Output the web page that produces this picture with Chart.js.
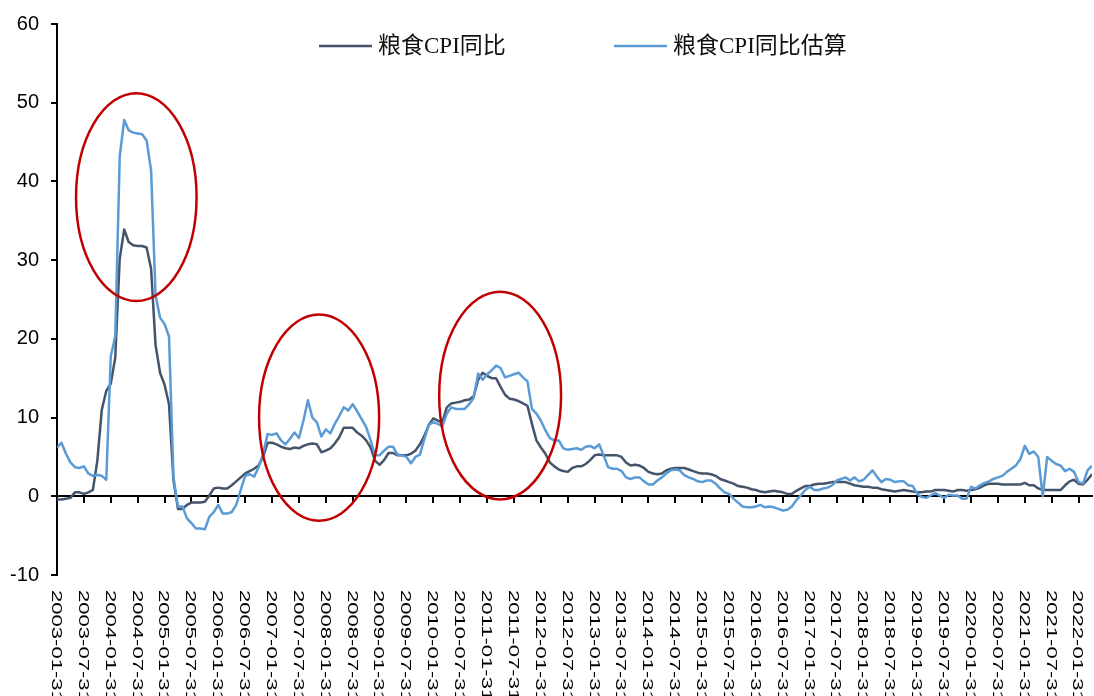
<!DOCTYPE html>
<html>
<head>
<meta charset="utf-8">
<script src="https://cdn.jsdelivr.net/npm/chart.js@4.4.1/dist/chart.umd.min.js"></script>
<style>
  body { margin: 0; background: #fff; }
  #wrap { width: 1094px; height: 696px; }
</style>
</head>
<body>
<div id="wrap"><canvas id="grainChart" width="1094" height="696"></canvas></div>
<script>
// x tick labels, one every 6 months (month index 0 = 2003-01-31)
const tickLabels = [
  '2003-01-31', '2003-07-31', '2004-01-31', '2004-07-31', '2005-01-31', '2005-07-31',
  '2006-01-31', '2006-07-31', '2007-01-31', '2007-07-31', '2008-01-31', '2008-07-31',
  '2009-01-31', '2009-07-31', '2010-01-31', '2010-07-31', '2011-01-31', '2011-07-31',
  '2012-01-31', '2012-07-31', '2013-01-31', '2013-07-31', '2014-01-31', '2014-07-31',
  '2015-01-31', '2015-07-31', '2016-01-31', '2016-07-31', '2017-01-31', '2017-07-31',
  '2018-01-31', '2018-07-31', '2019-01-31', '2019-07-31', '2020-01-31', '2020-07-31',
  '2021-01-31', '2021-07-31', '2022-01-31'
];

const seriesNames = ['粮食CPI同比', '粮食CPI同比估算'];

// monthly, 2003-01 .. 2022-04 (one row per year)
const grainCpi = [
  -0.4, -0.4, -0.3, -0.2, 0.5, 0.5, 0.3, 0.5, 0.8, 4.5, 11.0, 13.4,
  14.3, 17.6, 30.2, 33.9, 32.3, 31.9, 31.8, 31.8, 31.6, 28.9, 19.2, 15.7,
  14.2, 11.7, 2.0, -1.6, -1.6, -1.1, -0.8, -0.8, -0.8, -0.7, 0.1, 1.0,
  1.1, 1.0, 1.0, 1.4, 1.9, 2.4, 2.9, 3.2, 3.5, 3.9, 5.0, 6.8,
  6.8, 6.6, 6.3, 6.1, 6.0, 6.2, 6.1, 6.4, 6.6, 6.7, 6.6, 5.6,
  5.8, 6.1, 6.7, 7.5, 8.7, 8.7, 8.7, 8.1, 7.7, 7.1, 6.2, 4.5,
  4.0, 4.6, 5.5, 5.5, 5.2, 5.2, 5.2, 5.4, 5.8, 6.6, 7.7, 9.1,
  9.9, 9.6, 9.4, 11.3, 11.8, 11.9, 12.0, 12.2, 12.3, 12.7, 14.8, 15.7,
  15.3, 15.0, 15.0, 13.9, 12.9, 12.4, 12.3, 12.1, 11.8, 11.5, 9.2, 7.1,
  6.2, 5.4, 4.3, 3.8, 3.4, 3.2, 3.1, 3.6, 3.8, 3.8, 4.1, 4.6,
  5.2, 5.3, 5.2, 5.2, 5.2, 5.2, 5.0, 4.3, 3.9, 4.0, 3.9, 3.6,
  3.1, 2.9, 2.8, 2.9, 3.3, 3.5, 3.6, 3.6, 3.6, 3.4, 3.2, 3.0,
  2.9, 2.9, 2.8, 2.6, 2.2, 2.0, 1.8, 1.6, 1.3, 1.2, 1.1, 0.9,
  0.8, 0.6, 0.5, 0.6, 0.7, 0.6, 0.5, 0.3, 0.3, 0.7, 1.0, 1.3,
  1.3, 1.5, 1.6, 1.6, 1.7, 1.8, 1.8, 1.8, 1.8, 1.6, 1.4, 1.3,
  1.2, 1.2, 1.1, 1.1, 0.9, 0.8, 0.7, 0.6, 0.7, 0.8, 0.7, 0.6,
  0.5, 0.5, 0.6, 0.6, 0.8, 0.8, 0.8, 0.7, 0.6, 0.8, 0.8, 0.7,
  0.8, 0.9, 1.1, 1.4, 1.6, 1.6, 1.6, 1.5, 1.5, 1.5, 1.5, 1.5,
  1.7, 1.4, 1.4, 1.0, 0.8, 0.8, 0.8, 0.8, 0.8, 1.4, 1.9, 2.1,
  1.6, 1.5, 2.1, 2.8
];

const grainCpiEst = [
  6.2, 6.8, 5.4, 4.3, 3.7, 3.6, 3.8, 2.9, 2.6, 2.7, 2.6, 2.1,
  17.8, 20.3, 43.2, 47.8, 46.5, 46.2, 46.1, 46.0, 45.2, 41.4, 25.5, 22.7,
  21.9, 20.3, 2.4, -1.3, -1.3, -2.8, -3.4, -4.1, -4.1, -4.2, -2.6, -2.0,
  -1.1, -2.2, -2.2, -2.0, -1.1, 0.8, 2.6, 2.8, 2.5, 3.7, 5.4, 7.9,
  7.8, 8.0, 7.1, 6.6, 7.3, 8.1, 7.4, 9.6, 12.2, 10.0, 9.4, 7.6,
  8.5, 8.0, 9.2, 10.2, 11.3, 10.9, 11.7, 10.8, 9.8, 8.8, 7.1, 5.2,
  5.2, 5.8, 6.3, 6.3, 5.3, 5.2, 5.0, 4.2, 5.0, 5.3, 7.3, 9.1,
  9.4, 9.2, 8.9, 10.5, 11.3, 11.1, 11.1, 11.1, 11.7, 12.5, 15.6, 14.8,
  15.5, 16.0, 16.6, 16.3, 15.1, 15.3, 15.5, 15.7, 15.1, 14.6, 11.1, 10.5,
  9.6, 8.4, 7.4, 7.1, 7.1, 6.1, 5.9, 6.0, 6.1, 5.9, 6.3, 6.4,
  6.1, 6.6, 5.2, 3.7, 3.5, 3.5, 3.2, 2.4, 2.2, 2.4, 2.4, 1.9,
  1.5, 1.5, 2.0, 2.4, 2.9, 3.3, 3.4, 3.3, 2.7, 2.4, 2.2, 1.9,
  1.8, 2.0, 2.0, 1.6, 1.0, 0.5, 0.3, -0.3, -0.8, -1.3, -1.4, -1.4,
  -1.3, -1.1, -1.4, -1.3, -1.4, -1.6, -1.8, -1.7, -1.3, -0.5, 0.1, 0.8,
  1.2, 0.8, 0.8, 1.0, 1.1, 1.4, 2.0, 2.2, 2.4, 2.0, 2.4, 1.9,
  2.1, 2.7, 3.3, 2.5, 1.8, 2.2, 2.1, 1.8, 1.9, 1.9, 1.4, 1.3,
  0.3, -0.1, -0.2, 0.1, 0.4, 0.1, -0.2, 0.2, 0.1, 0.1, -0.3, -0.3,
  1.2, 1.0, 1.4, 1.7, 1.9, 2.2, 2.4, 2.6, 3.1, 3.5, 3.9, 4.7,
  6.4, 5.4, 5.7, 5.0, 0.0, 5.0, 4.5, 4.1, 3.9, 3.2, 3.5, 3.1,
  1.8, 1.6, 3.3, 3.9
];

const sansFont = '"Liberation Sans", Arial, sans-serif';

// rotated date labels under the plot, reading top to bottom
const dateLabels = {
  id: 'dateLabels',
  afterDraw(chart) {
    const xs = chart.scales.x;
    const ctx = chart.ctx;
    const top = chart.chartArea.bottom + 15;
    ctx.save();
    ctx.fillStyle = '#000';
    ctx.font = '15px ' + sansFont;
    ctx.textAlign = 'left';
    ctx.textBaseline = 'middle';
    xs.ticks.forEach(t => {
      const label = tickLabels[Math.round(t.value / 6)];
      if (!label) return;
      ctx.save();
      ctx.translate(xs.getPixelForValue(t.value) - 1, top);
      ctx.rotate(Math.PI / 2);
      ctx.scale(1.47, 1);
      ctx.fillText(label, 0, 0);
      ctx.restore();
    });
    ctx.restore();
  }
};

// legend drawn inside the plot area
const topLegend = {
  id: 'topLegend',
  afterDraw(chart, args, opts) {
    const ctx = chart.ctx;
    ctx.save();
    chart.data.datasets.forEach((ds, i) => {
      const x = opts.x[i];
      ctx.strokeStyle = ds.borderColor;
      ctx.lineWidth = 2.5;
      ctx.beginPath();
      ctx.moveTo(x, opts.y);
      ctx.lineTo(x + opts.lineLength, opts.y);
      ctx.stroke();
      ctx.fillStyle = '#111';
      ctx.font = opts.font;
      ctx.textAlign = 'left';
      ctx.textBaseline = 'middle';
      ctx.fillText(ds.label, x + opts.lineLength + 6, opts.y + 1);
    });
    ctx.restore();
  }
};

// red ellipses, given in data units
const highlights = {
  id: 'highlights',
  afterDatasetsDraw(chart, args, opts) {
    const xs = chart.scales.x, ys = chart.scales.y;
    const ctx = chart.ctx;
    ctx.save();
    ctx.strokeStyle = opts.color;
    ctx.lineWidth = opts.width;
    opts.areas.forEach(a => {
      const cx = xs.getPixelForValue(a.x);
      const cy = ys.getPixelForValue(a.y);
      const rx = Math.abs(xs.getPixelForValue(a.x + a.rx) - cx);
      const ry = Math.abs(ys.getPixelForValue(a.y + a.ry) - cy);
      ctx.beginPath();
      ctx.ellipse(cx, cy, rx, ry, 0, 0, Math.PI * 2);
      ctx.stroke();
    });
    ctx.restore();
  }
};

const ctx = document.getElementById('grainChart').getContext('2d');

const grainChart = new Chart(ctx, {
  type: 'line',
  data: {
    datasets: [
      {
        label: seriesNames[0],
        data: grainCpi.map((v, i) => ({x: i, y: v})),
        borderColor: '#44546A',
        backgroundColor: '#44546A',
        borderWidth: 2.5,
        borderJoinStyle: 'round',
        pointRadius: 0,
        tension: 0,
        fill: false,
        order: 1
      },
      {
        label: seriesNames[1],
        data: grainCpiEst.map((v, i) => ({x: i, y: v})),
        borderColor: '#5B9BD5',
        backgroundColor: '#5B9BD5',
        borderWidth: 2.5,
        borderJoinStyle: 'round',
        pointRadius: 0,
        tension: 0,
        fill: false,
        order: 0
      }
    ]
  },
  options: {
    responsive: false,
    animation: false,
    devicePixelRatio: 1,
    layout: {
      padding: {top: 20, right: 2, bottom: 121, left: 0}
    },
    scales: {
      x: {
        type: 'linear',
        position: {y: 0},
        min: 0,
        max: grainCpi.length - 1,
        border: {display: true, color: '#000', width: 2},
        grid: {drawOnChartArea: false, drawTicks: true, tickLength: 6, color: '#000', lineWidth: 2},
        ticks: {display: false, stepSize: 6, includeBounds: false, autoSkip: false}
      },
      y: {
        min: -10,
        max: 60,
        border: {color: '#000', width: 2},
        grid: {drawOnChartArea: false, tickLength: 6, color: '#000', lineWidth: 2},
        ticks: {
          stepSize: 10,
          padding: 12,
          color: '#000',
          font: {family: sansFont, size: 20}
        },
        afterFit(scale) {
          scale.width = 57;
        }
      }
    },
    plugins: {
      legend: {display: false},
      tooltip: {enabled: false},
      topLegend: {
        x: [319, 614],
        y: 46,
        lineLength: 53,
        font: '23px "Liberation Serif", "Noto Sans CJK SC", serif'
      },
      highlights: {
        color: '#C00000',
        width: 2.5,
        areas: [
          {x: 17.7, y: 38.0, rx: 13.45, ry: 13.2},
          {x: 58.5, y: 10.0, rx: 13.4, ry: 13.1},
          {x: 98.9, y: 12.8, rx: 13.6, ry: 13.2}
        ]
      }
    }
  },
  plugins: [dateLabels, topLegend, highlights]
});
</script>
</body>
</html>
